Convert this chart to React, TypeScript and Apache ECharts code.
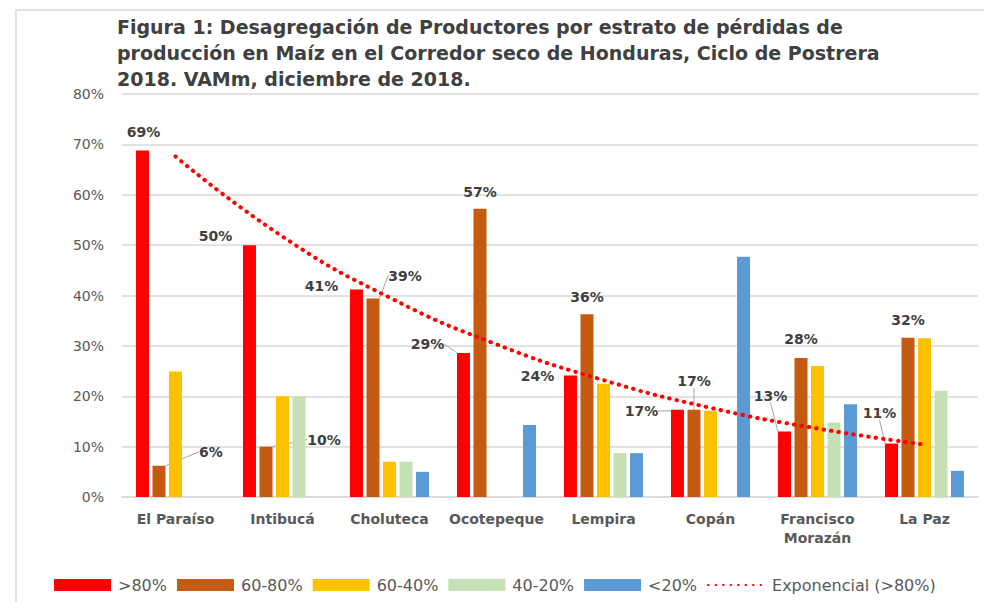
import React, { useEffect, useRef } from "react";
import * as echarts from "echarts";

const categories = ["El Paraíso", "Intibucá", "Choluteca", "Ocotepeque", "Lempira", "Copán", "Francisco\nMorazán", "La Paz"];
const seriesNames = [">80%", "60-80%", "60-40%", "40-20%", "<20%"];
const over80 = [68.8, 50.0, 41.2, 28.6, 24.1, 17.3, 13.0, 10.6];
const from60to80 = [6.2, 10.0, 39.4, 57.2, 36.3, 17.3, 27.6, 31.6];
const from40to60 = [24.9, 20.0, 7.0, 0, 22.5, 17.1, 26.0, 31.5];
const from20to40 = [0, 20.0, 7.0, 0, 8.7, 0, 14.8, 21.1];
const under20 = [0, 0, 5.0, 14.3, 8.7, 47.7, 18.4, 5.2];
const trendName = "Exponencial (>80%)";
const trendOver80 = [67.6, 51.7, 39.6, 30.3, 23.2, 17.7, 13.6, 10.4];
const yTicks = { min: 0, max: 80, interval: 10 };

// label placement (pixel offsets from default "top" position) and leader-line flags
const redLabelOffsets = [[1, -6], [-34, 3], [-35, 9], [-36, 3], [-33, 12], [-36, 13], [-14, -24], [-12, -19]];
const brownLabelOffsets = [[52, -2], [58, 5], [32, -11], [0, -5], [0, -5], [0, -17], [0, -7], [0, -6]];
const redLeader = [false, false, false, true, false, true, true, true];
const brownLeader = [true, true, true, false, false, true, false, false];

const colors = ["#FF0000", "#C55A11", "#FFC000", "#C5E0B4", "#5B9BD5"];
const FONT = "DejaVu Sans";

export default function App() {
  const ref = useRef<HTMLDivElement>(null);
  useEffect(() => {
    if (!ref.current) return;
    const chart = echarts.init(ref.current, undefined, { renderer: "svg" });
    const values = [over80, from60to80, from40to60, from20to40, under20];
    const labelLabel = {
      show: true,
      position: "top",
      distance: 5,
      fontFamily: FONT,
      fontWeight: "bold",
      fontSize: 14,
      color: "#404040",
      formatter: (p: any) => Math.round(p.value) + "%",
    };
    const leaderStyle = { show: true, length2: 0, lineStyle: { color: "#a6a6a6", width: 1 } };
    const barSeries = values.map((arr, si) => {
      const hasLabels = si <= 1;
      const leaders = si === 0 ? redLeader : brownLeader;
      const offs = si === 0 ? redLabelOffsets : brownLabelOffsets;
      return {
        name: seriesNames[si],
        type: "bar",
        barWidth: 13,
        barGap: "27%",
        itemStyle: { color: colors[si] },
        data: arr.map((v, i) =>
          hasLabels
            ? { value: v, label: labelLabel, labelLine: leaders[i] ? leaderStyle : { show: false } }
            : { value: v, label: { show: false } }
        ),
        labelLayout: hasLabels
          ? (params: any) => ({ dx: offs[params.dataIndex][0], dy: offs[params.dataIndex][1] })
          : undefined,
        z: 2,
      };
    });
    const option: any = {
      animation: false,
      backgroundColor: "#ffffff",
      title: {
        text: "Figura 1: Desagregación de Productores por estrato de pérdidas de\nproducción en Maíz en el Corredor seco de Honduras, Ciclo de Postrera\n2018. VAMm, diciembre de 2018.",
        left: 112,
        top: 9,
        textStyle: {
          fontFamily: FONT,
          fontWeight: "bold",
          fontSize: 19,
          lineHeight: 26,
          color: "#404040",
        },
      },
      graphic: [
        {
          type: "rect",
          shape: { x: 16, y: 10, width: 990, height: 600 },
          style: { fill: "none", stroke: "#d9d9d9", lineWidth: 1.5 },
          silent: true,
          z: -1,
        },
      ],
      legend: {
        left: 49,
        top: 572,
        itemWidth: 57,
        itemHeight: 12,
        itemGap: 10,
        textStyle: { fontFamily: FONT, fontSize: 16, color: "#595959", padding: [0, 0, 0, 2] },
        data: [
          ...seriesNames.map((n) => ({ name: n, icon: "rect" })),
          { name: trendName, itemStyle: { opacity: 0 } },
        ],
      },
      grid: { left: 122, right: 6, top: 94, bottom: 105 },
      xAxis: {
        type: "category",
        data: categories,
        axisTick: { show: false },
        axisLine: { lineStyle: { color: "#d9d9d9", width: 1.5 } },
        axisLabel: {
          interval: 0,
          margin: 12,
          fontFamily: FONT,
          fontWeight: "bold",
          fontSize: 14,
          lineHeight: 19,
          color: "#595959",
        },
      },
      yAxis: {
        type: "value",
        min: yTicks.min,
        max: yTicks.max,
        interval: yTicks.interval,
        axisLine: { show: false },
        axisTick: { show: false },
        splitLine: { lineStyle: { color: "#d9d9d9", width: 1.5 } },
        axisLabel: {
          formatter: "{value}%",
          margin: 18,
          fontFamily: FONT,
          fontSize: 14,
          color: "#595959",
        },
      },
      series: [
        ...barSeries,
        {
          name: trendName,
          type: "line",
          data: trendOver80,
          showSymbol: false,
          symbol: "none",
          smooth: true,
          lineStyle: { color: "#FF0000", width: 4, type: [0.5, 7], cap: "round" },
          itemStyle: { color: "#FF0000" },
          z: 5,
        },
      ],
    };
    chart.setOption(option);
    return () => chart.dispose();
  }, []);
  return (
    <div
      ref={ref}
      style={{ position: "fixed", left: 0, top: 0, width: 984, height: 602, background: "#fff" }}
    />
  );
}
